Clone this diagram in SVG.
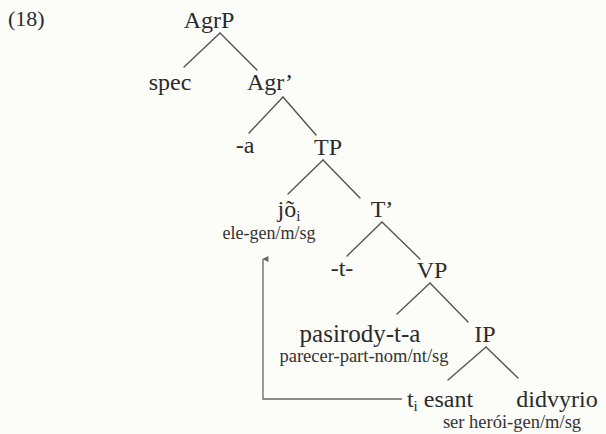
<svg xmlns="http://www.w3.org/2000/svg" width="606" height="434" viewBox="0 0 606 434">
  <defs>
    <marker id="head" viewBox="0 0 10 10" refX="5" refY="1" markerWidth="6" markerHeight="7" orient="auto-start-reverse" markerUnits="userSpaceOnUse">
      <path d="M0,10 L5,0 L10,10 Z" fill="#666"/>
    </marker>
  </defs>
  <rect width="606" height="434" fill="#fcfcf8"/>

  <text x="8" y="26" font-family="Liberation Serif, serif" font-size="22" fill="#2b2b2b">(18)</text>

  <!-- tree branches and the movement line -->
  <g id="connectors" stroke="#555" stroke-width="1.4" fill="none" stroke-linecap="round">
    <line x1="220" y1="33" x2="184" y2="67"/>
    <line x1="220" y1="33" x2="257" y2="70"/>
    <line x1="283" y1="97" x2="249" y2="133"/>
    <line x1="283" y1="97" x2="316" y2="135"/>
    <line x1="323" y1="160" x2="288" y2="194"/>
    <line x1="323" y1="160" x2="360" y2="198"/>
    <line x1="382" y1="222" x2="347" y2="256"/>
    <line x1="382" y1="222" x2="420" y2="259"/>
    <line x1="430" y1="283" x2="397" y2="314"/>
    <line x1="430" y1="283" x2="468" y2="322"/>
    <line x1="486" y1="347" x2="448" y2="380"/>
    <line x1="486" y1="347" x2="518" y2="378"/>
    <!-- trace of jõ, carried up from the IP -->
    <polyline points="402,399 263,399 263,259" stroke="#666" stroke-width="1.3" stroke-linecap="butt" marker-end="url(#head)"/>
  </g>

  <!-- node labels: category labels at 24px, glosses at 18px -->
  <g font-family="Liberation Serif, serif" font-size="24" fill="#2b2b2b" text-anchor="middle">
    <g id="AgrP"><text x="209" y="28">AgrP</text></g>
    <g id="spec"><text x="170" y="90">spec</text></g>
    <g id="AgrBar"><text x="270" y="90">Agr’</text></g>
    <g id="a"><text x="245" y="153">-a</text></g>
    <g id="TP"><text x="328" y="155">TP</text></g>
    <g id="jo">
      <text x="289" y="217">jõ<tspan font-size="15" dy="4">i</tspan></text>
      <text x="269" y="239" font-size="18" fill="#333">ele-gen/m/sg</text>
    </g>
    <g id="TBar"><text x="382" y="217">T’</text></g>
    <g id="t"><text x="342" y="276">-t-</text></g>
    <g id="VP"><text x="432" y="278">VP</text></g>
    <g id="pasirodyta">
      <text x="360" y="342" font-size="25">pasirody-t-a</text>
      <text x="364" y="362" font-size="18.5" fill="#333">parecer-part-nom/nt/sg</text>
    </g>
    <g id="IP"><text x="485" y="342">IP</text></g>
    <g id="esant"><text x="440" y="407">t<tspan font-size="15" dy="4">i</tspan><tspan dy="-4"> esant</tspan></text></g>
    <g id="didvyrio">
      <text x="557" y="407">didvyrio</text>
      <text x="512" y="428" font-size="18.5" fill="#333">ser herói-gen/m/sg</text>
    </g>
  </g>
</svg>
